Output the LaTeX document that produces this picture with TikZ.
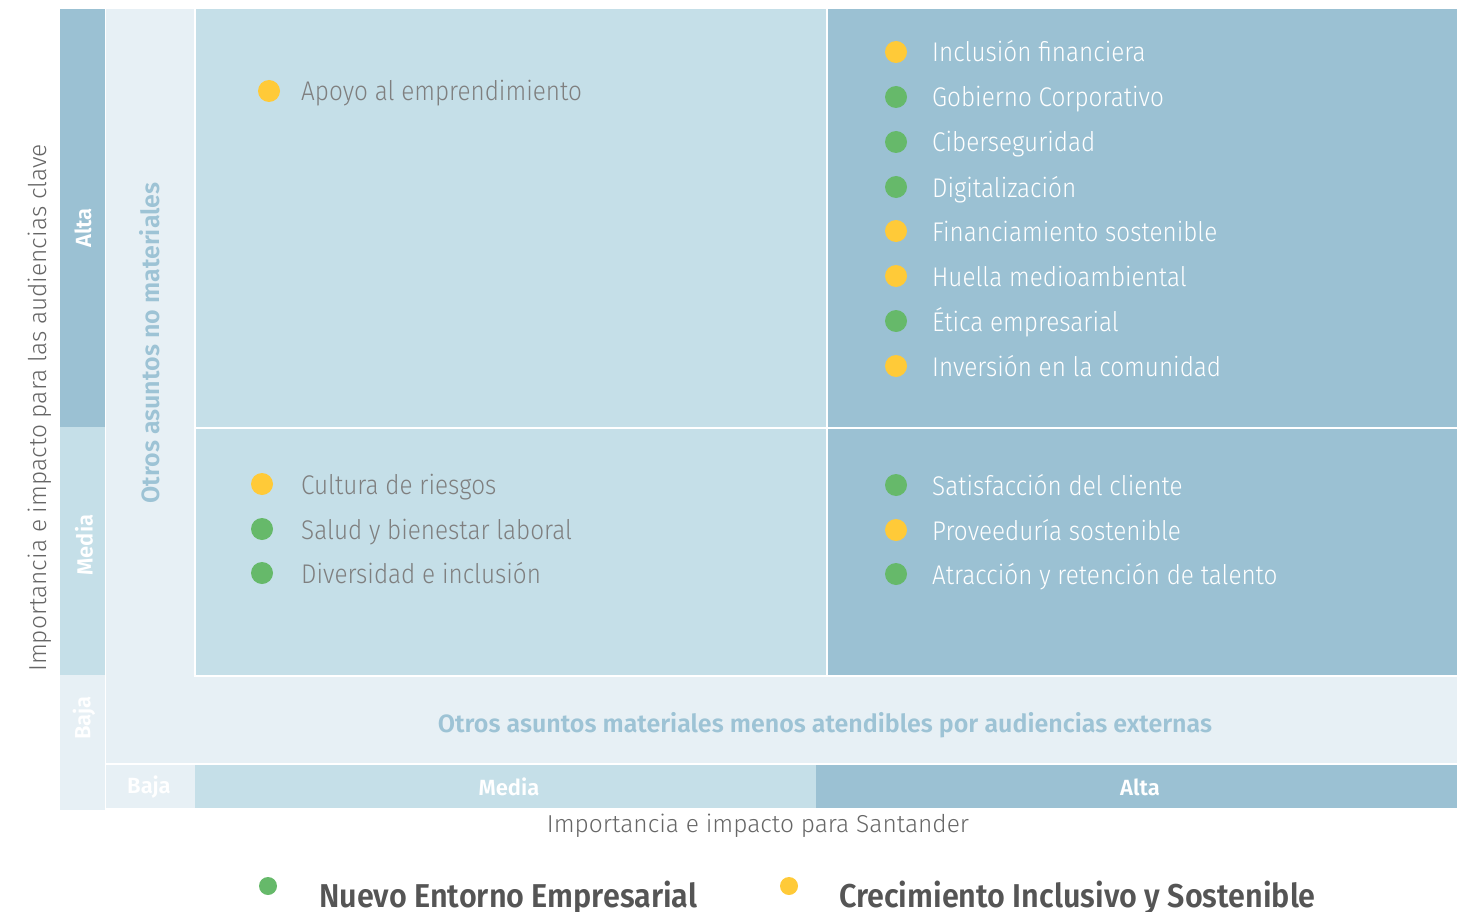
\documentclass[tikz,border=0pt]{standalone}
\usepackage{fontspec}
\setmainfont{Fira Sans Light}
\newfontfamily\ltf{Fira Sans Light}[FakeStretch=0.9]
\newfontfamily\ltn{Fira Sans Light}
\newfontfamily\bdf{Fira Sans SemiBold}[FakeStretch=0.926]
\newfontfamily\bdn{Fira Sans SemiBold}
\definecolor{dk}{HTML}{9BC1D3}
\definecolor{md}{HTML}{C5DFE8}
\definecolor{lt}{HTML}{E7F0F5}
\definecolor{lbl}{HTML}{9DC3D5}
\definecolor{gtxt}{HTML}{7F7F7F}
\definecolor{ttl}{HTML}{666666}
\definecolor{leg}{HTML}{555555}
\definecolor{grn}{HTML}{66B96A}
\definecolor{yel}{HTML}{FFCA38}
\tikzset{
  dot/.style={circle, inner sep=0pt, minimum size=22pt},
  itemw/.style={anchor=base west, inner sep=0pt, text=white, font=\ltf\fontsize{27}{30}\selectfont},
  itemg/.style={anchor=base west, inner sep=0pt, text=gtxt, font=\ltf\fontsize{27}{30}\selectfont},
  axlbl/.style={inner sep=0pt, text=white, font=\bdn\fontsize{22}{25}\selectfont},
  zone/.style={inner sep=0pt, text=lbl, font=\bdn\fontsize{25}{28}\selectfont},
  axttl/.style={inner sep=0pt, text=ttl, font=\ltn\fontsize{24.5}{28}\selectfont},
  legtxt/.style={anchor=base west, inner sep=0pt, text=leg, font=\bdf\fontsize{33}{36}\selectfont},
}
\begin{document}
\begin{tikzpicture}[x=1pt, y=-1pt]
\useasboundingbox (0,0) rectangle (1471,912);
% left axis bands
\fill[dk] (60,9) rectangle (105,427);
\fill[md] (60,427) rectangle (105,675);
\fill[lt] (60,675) rectangle (105,810);
% column of non-material
\fill[lt] (106,9) rectangle (194,763);
% quadrants
\fill[md] (196,9) rectangle (826,427);
\fill[dk] (828,9) rectangle (1457,427);
\fill[md] (196,429) rectangle (826,675);
\fill[dk] (828,429) rectangle (1457,675);
% baja row
\fill[lt] (106,677) rectangle (1457,763);
% bottom axis
\fill[lt] (106,765) rectangle (195,808);
\fill[md] (195,765) rectangle (816,808);
\fill[dk] (816,765) rectangle (1457,808);

% axis labels
\node[axlbl, rotate=90] (yalta) at (83,228) {Alta};
\node[axlbl, rotate=90] (ymedia) at (84,545) {Media};
\node[axlbl, rotate=90] (ybaja) at (84,718) {Baja};
\node[axlbl] (xbaja) at (149,787) {Baja};
\node[axlbl] (xmedia) at (509,787) {Media};
\node[axlbl] (xalta) at (1140,787) {Alta};

\node[zone, rotate=90] (nomat) at (150,343) {Otros asuntos no materiales};
\node[zone] (menos) at (825,725) {Otros asuntos materiales menos atendibles por audiencias externas};

\node[axttl, rotate=90] (ytitle) at (40,408) {Importancia e impacto para las audiencias clave};
\node[axttl] (xtitle) at (758,826) {Importancia e impacto para Santander};

% top-left
\node[dot, fill=yel] (d0) at (269,91) {};
\node[itemg] (t0) at (301,101) {Apoyo al emprendimiento};

% top-right
\foreach \y/\c/\t [count=\i] in {
  52/yel/Inclusión financiera,
  97/grn/Gobierno Corporativo,
  142/grn/Ciberseguridad,
  187/grn/Digitalización,
  231/yel/Financiamiento sostenible,
  276/yel/Huella medioambiental,
  321/grn/Ética empresarial,
  366/yel/Inversión en la comunidad}{
  \node[dot, fill=\c] (tr\i) at (896,\y) {};
  \node[itemw] (trt\i) at (932,\y+10) {\t};
}
% bottom-left
\foreach \y/\c/\t [count=\i] in {
  484/yel/Cultura de riesgos,
  529/grn/Salud y bienestar laboral,
  573/grn/Diversidad e inclusión}{
  \node[dot, fill=\c] (bl\i) at (262,\y) {};
  \node[itemg] (blt\i) at (301,\y+10) {\t};
}
% bottom-right
\foreach \y/\c/\t [count=\i] in {
  485/grn/Satisfacción del cliente,
  530/yel/Proveeduría sostenible,
  574/grn/Atracción y retención de talento}{
  \node[dot, fill=\c] (br\i) at (896,\y) {};
  \node[itemw] (brt\i) at (932,\y+10) {\t};
}

% legend
\node[dot, fill=grn, minimum size=18pt] (lg1) at (268,886) {};
\node[legtxt] (lt1) at (319,907) {Nuevo Entorno Empresarial};
\node[dot, fill=yel, minimum size=18pt] (lg2) at (789,886) {};
\node[legtxt] (lt2) at (839,907) {Crecimiento Inclusivo y Sostenible};
\end{tikzpicture}
\end{document}
